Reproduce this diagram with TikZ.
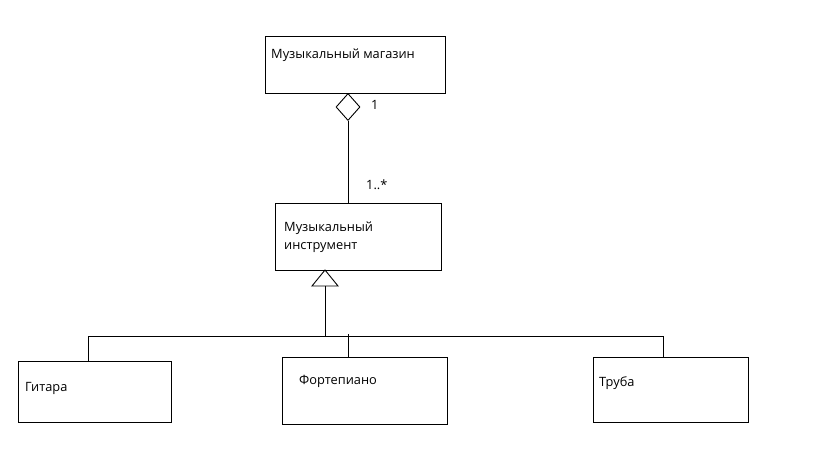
\documentclass[tikz,border=0pt]{standalone}
\usepackage{fontspec}
\setmainfont{Open Sans}
\usetikzlibrary{shapes.geometric}
\begin{document}
\begin{tikzpicture}[x=1pt,y=-1pt,
  box/.style={draw, line width=1pt, inner sep=0, anchor=north west},
  txt/.style={anchor=west, inner sep=0, font=\fontsize{12.8}{15}\selectfont},
  ln/.style={line width=1pt}]
\useasboundingbox[fill=white] (0,0) rectangle (819,460);
% boxes
\node[box, minimum width=180, minimum height=57] (mag) at (265,36) {};
\node[box, minimum width=166, minimum height=67] (ins) at (275,203) {};
\node[box, minimum width=153, minimum height=61] (git) at (18,361) {};
\node[box, minimum width=165, minimum height=67] (fort) at (282,357) {};
\node[box, minimum width=155, minimum height=65] (trub) at (593,357) {};
% texts
\node[txt] (tmag) at (271,55) {Музыкальный магазин};
\node[txt] (tins1) at (284,228) {Музыкальный};
\node[txt] (tins2) at (284,248) {инструмент};
\node[txt] (tgit) at (25,388) {Гитара};
\node[txt] (tfort) at (299,381) {Фортепиано};
\node[txt] (ttrub) at (599,383) {Труба};
\node[txt] (m1) at (371,105) {1};
\node[txt] (m2) at (366,185) {1..*};
% aggregation
\node[draw, line width=0.9pt, diamond, aspect=0.9, inner sep=0, minimum width=24, minimum height=27] (dia) at (348,107) {};
\draw[ln] (dia.south) -- (dia.south |- ins.north);
% generalization
\coordinate (apex) at (325,270);
\coordinate (bl) at (312,286);
\coordinate (br) at (338,286);
\coordinate (base) at (325,286);
\draw[line width=0.9pt] (apex) -- (bl) -- (br) -- cycle;
\coordinate (bus) at (325,336);
\coordinate (busL) at (88,336);
\coordinate (busR) at (663,336);
\draw[ln] (base) -- (bus);
\draw[ln] (busL) -- (busR);
\draw[ln] (busL) -- (busL |- git.north);
\draw[ln] (348,334) -- (348,357 |- fort.north);
\draw[ln] (busR) -- (busR |- trub.north);
\end{tikzpicture}
\end{document}
